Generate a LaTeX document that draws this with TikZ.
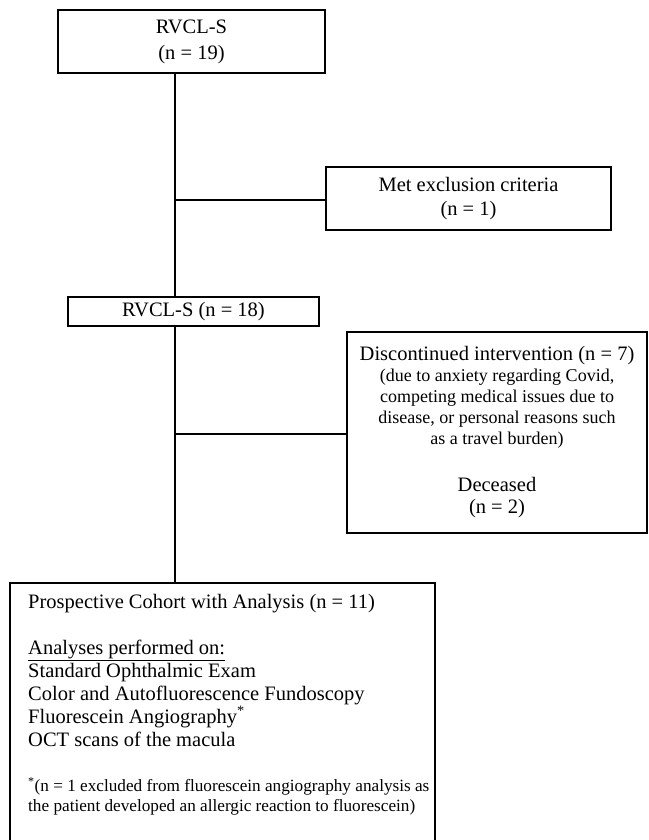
\documentclass[tikz,border=0pt]{standalone}
\usepackage{fontspec}
\setmainfont{Liberation Serif}
\begin{document}
\begin{tikzpicture}[x=1pt,y=-1pt,
  box/.style={draw,line width=1.2pt,inner sep=0pt,align=center,font=\fontsize{20.5}{24}\selectfont},
  conn/.style={line width=1.2pt}]
\useasboundingbox (0,0) rectangle (648,840);
\clip (0,0) rectangle (648,840);
\node[box,minimum width=267pt,minimum height=63pt] (b1) at (191.5,41.5) {RVCL-S\\[2pt](n = 19)};
\node[box,minimum width=285pt,minimum height=63pt] (b2) at (468.5,198.5) {Met exclusion criteria\\(n = 1)};
\node[box,minimum width=251pt,minimum height=29pt] (b3) at (193.5,311.5) {RVCL-S (n = 18)};
\node[box,minimum width=300pt,minimum height=201pt] (b4) at (497,432.5)
  {Discontinued intervention (n = 7)\\[-3pt]
   {\fontsize{18}{21}\selectfont (due to anxiety regarding Covid,}\\[-3pt]
   {\fontsize{18}{21}\selectfont competing medical issues due to}\\[-3pt]
   {\fontsize{18}{21}\selectfont disease, or personal reasons such}\\[-3pt]
   {\fontsize{18}{21}\selectfont as a travel burden)}\\[23pt]
   Deceased\\[-2pt](n = 2)};
\node[box,minimum width=425pt,minimum height=267pt] (b5) at (222.5,716.5) {};
\node[anchor=north west,inner sep=0pt,align=left,font=\fontsize{20.5}{23}\selectfont] (t5) at (28,594)
  {Prospective Cohort with Analysis (n = 11)\\[23pt]
   \underline{Analyses performed on:}\\
   Standard Ophthalmic Exam\\
   Color and Autofluorescence Fundoscopy\\
   Fluorescein Angiography\textsuperscript{*}\\
   OCT scans of the macula\\[22pt]
   {\fontsize{17.2}{19}\selectfont \textsuperscript{*}(n = 1 excluded from fluorescein angiography analysis as}\\[-3pt]
   {\fontsize{17.2}{19}\selectfont the patient developed an allergic reaction to fluorescein)}};
\coordinate (s1) at (175,73);
\coordinate (j1) at (175,200);
\coordinate (e3t) at (175,297);
\coordinate (s3) at (175,326);
\coordinate (j2) at (175,434);
\coordinate (e5) at (175,583);
\draw[conn] (s1) -- (e3t);
\draw[conn] (s3) -- (e5);
\draw[conn] (j1) -- (j1 -| b2.west);
\draw[conn] (j2) -- (j2 -| b4.west);
\end{tikzpicture}
\end{document}
